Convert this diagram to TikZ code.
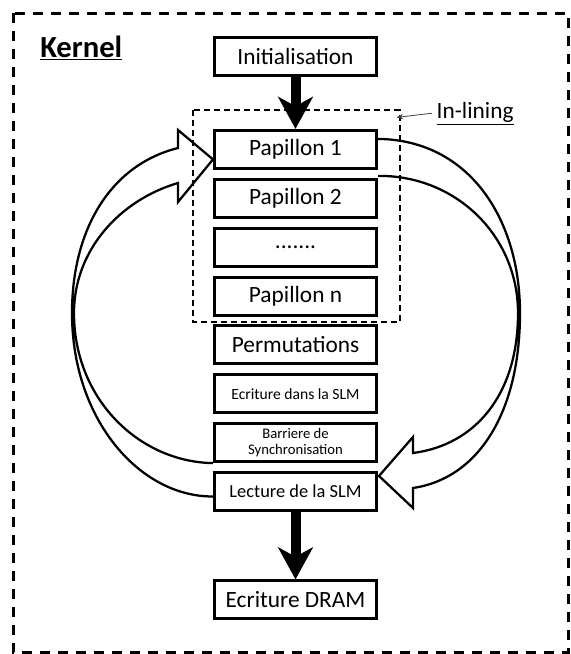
\documentclass[tikz,border=0pt]{standalone}
\usepackage{fontspec}
\setmainfont{Carlito}
\usetikzlibrary{positioning,arrows.meta,calc}

\begin{document}
\begin{tikzpicture}[x=0.75pt,y=-0.75pt,>=Stealth,
    stage/.style={draw,line width=2.25pt,minimum width=121.5pt,minimum height=28.5pt,inner sep=0pt,align=center,font=\fontsize{17.5}{20}\selectfont},
    fat/.style={line width=7.5pt,-{Stealth[length=24pt,width=26pt,inset=7pt]}},
    loopline/.style={line width=1.7pt,line join=miter}]
    \useasboundingbox (0,0) rectangle (571,654);
    \draw[line width=2.25pt,dash pattern=on 7.5pt off 6pt] (13,13) rectangle (568,652);
    \node[anchor=base west,inner sep=0pt,font=\bfseries\fontsize{23}{26}\selectfont] (kern) at (40,57) {\underline{Kernel}};
    % main column
    \node[stage] (init) at (295.5,56) {Initialisation};
    \node[stage,below=39.3pt of init] (pap1) {Papillon 1};
    \node[stage,below=5.9pt of pap1] (pap2) {Papillon 2};
    \node[stage,below=5.9pt of pap2] (dots) {.......};
    \node[stage,below=5.9pt of dots] (papn) {Papillon n};
    \node[stage,below=5.9pt of papn] (perm) {Permutations};
    \node[stage,font=\fontsize{11.7}{13}\selectfont,below=5.9pt of perm] (wslm) {Ecriture dans la SLM};
    \node[stage,font=\fontsize{11}{12.5}\selectfont,below=5.9pt of wslm] (sync) {Barriere de\\Synchronisation};
    \node[stage,font=\fontsize{13.8}{16}\selectfont,below=5.9pt of sync] (rslm) {Lecture de la SLM};
    \node[stage,below=50.6pt of rslm] (dram) {Ecriture DRAM};
    \draw[fat] (init) -- (pap1);
    \draw[fat] (rslm) -- (dram);
    % in-lining frame
    \coordinate (inltr) at ($(papn.east |- pap1.north)+(21.5,-18.5)$);
    \draw[line width=1.5pt,dash pattern=on 4.5pt off 3pt] ($(pap1.north west)+(-20.5,-18.5)$) rectangle ($(papn.south east)+(21.5,5.5)$);
    \node[anchor=base west,font=\fontsize{17.5}{20}\selectfont] (inl) at (432,118) {\underline{In-lining}};
    \draw[-{Stealth[length=5pt,width=4pt]},line width=0.6pt,black!75] (inl.west) -- ($(inltr)+(-3,7)$);
    % loop arrows
    \draw[loopline] ($(pap1.north east)+(0,10)$) .. controls (470,140) and (520,220) .. (520,313)
      .. controls (520,410) and (480,478) .. (413,488) -- (413,508) -- ($(rslm.north east)+(1,5)$)
      -- (413,437) -- (413,453) .. controls (475,445) and (518,395) .. (518,313)
      .. controls (518,235) and (455,175) .. ($(pap1.south east)+(0,6)$);
    \draw[loopline] ($(rslm.west)+(0,5)$) .. controls (140,497) and (72,420) .. (72,313)
      .. controls (72,230) and (110,165) .. (178,148) -- (178,130) -- ($(pap1.west)+(0,10)$)
      -- (178,202) -- (178,183) .. controls (120,200) and (74,250) .. (74,313)
      .. controls (74,400) and (140,462) .. (sync.south west);
\end{tikzpicture}
\end{document}
